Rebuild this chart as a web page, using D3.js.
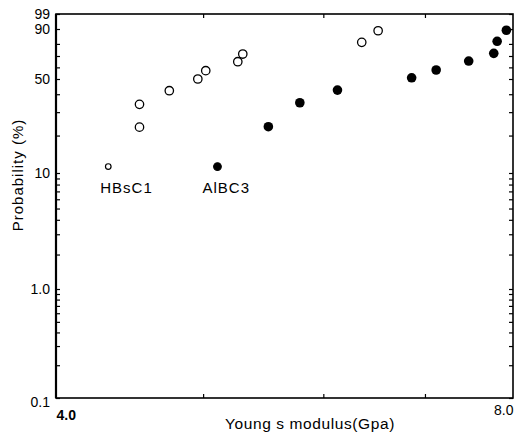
<!DOCTYPE html>
<html>
<head>
<meta charset="utf-8">
<script src="https://cdn.jsdelivr.net/npm/d3@7"></script>
<style>
  body { margin: 0; background: #fff; }
  svg { display: block; font-family: "Liberation Sans", Arial, sans-serif; }
</style>
</head>
<body>
<svg></svg>
<script>
// Young's modulus (GPa) and cumulative probability (%)
let hbsModulus = [4.54, 4.54, 4.75, 4.96, 5.02, 5.27, 5.31, 6.36, 6.52]
let hbsProb = [23.2, 34.1, 42.2, 50, 57.1, 65, 71.7, 81.2, 89]

let albModulus = [5.52, 5.79, 6.13, 6.86, 7.12, 7.48, 7.77, 7.81, 7.92]
let albProb = [23.4, 35, 42.6, 51, 57.7, 65.6, 72.3, 82, 89.3]

let seriesNames = ["HBsC1", "AlBC3"]
let legendModulus = [4.33, 5.11]
let legendProb = [11.3, 11.3]

let probTicks = [0.1, 1, 10, 50, 90, 99]
let probLabels = ["0.1", "1.0", "10", "50", "90", "99"]
let minorProb = [0.2, 0.3, 0.4, 0.5, 0.6, 0.7, 0.8, 0.9, 2, 3, 4, 5, 6, 7, 8, 9, 20, 30, 40, 60, 70, 80]
let modTicks = [4, 8]
let modLabels = ["4.0", "8.0"]
let minorMod = [5, 6, 7]

let width = 519
let height = 436
let plotLeft = 56, plotRight = 513, plotTop = 14, plotBottom = 398

let svg = d3.select('svg')
  .attr('width', width)
  .attr('height', height)

// weibull transform ln(-ln(1-F))
let weib = (p) => Math.log(-Math.log(1 - p / 100))

let xScale = d3.scaleLog()
  .domain([4, 8])
  .range([plotLeft, plotRight])

// the printed axis is squeezed near the top, so map piece by piece
let wScale = d3.scaleLinear()
  .domain(probTicks.map(weib))
  .range([plotBottom, 289, 173, 79, 29, plotTop])

let yScale = (p) => wScale(weib(p))

let font = 14

// frame
svg.append('rect')
  .attr('x', plotLeft)
  .attr('y', plotTop)
  .attr('width', plotRight - plotLeft)
  .attr('height', plotBottom - plotTop)
  .attr('fill', 'none')
  .attr('stroke', '#000')
  .attr('stroke-width', 1.6)

svg.append('line')
  .attr('x1', plotLeft).attr('x2', plotLeft)
  .attr('y1', plotTop).attr('y2', plotBottom)
  .attr('stroke', '#000')
  .attr('stroke-width', 2.2)

// y labels
let yLabels = svg.append('g')
  .attr('transform', 'translate(' + plotLeft + ',0)')
  .call(d3.axisLeft(wScale)
    .tickValues(probTicks.map(weib))
    .tickSize(0)
    .tickPadding(6)
    .tickFormat((d, i) => probLabels[i]))
yLabels.select('.domain').remove()
yLabels.selectAll('text')
  .attr('font-size', font)
  .attr('font-family', '"Liberation Sans", Arial, sans-serif')
  .attr('fill', '#000')
  .attr('dy', (d, i) => i == 0 ? '0.6em' : '0.32em')

// inward ticks on left and right
let yMinor = probTicks.concat(minorProb).map(weib)
let drawYTicks = (xPos, axisFn) => {
  let g = svg.append('g')
    .attr('transform', 'translate(' + xPos + ',0)')
    .call(axisFn(wScale).tickValues(yMinor).tickSize(4).tickFormat(''))
  g.select('.domain').remove()
  g.selectAll('line').attr('stroke', '#000').attr('stroke-width', 1.2)
}
drawYTicks(plotLeft, d3.axisRight)
drawYTicks(plotRight, d3.axisLeft)

// x labels
let xLabels = svg.append('g')
  .attr('transform', 'translate(0,' + plotBottom + ')')
  .call(d3.axisBottom(xScale)
    .tickValues(modTicks)
    .tickSize(0)
    .tickPadding(10)
    .tickFormat((d, i) => modLabels[i]))
xLabels.select('.domain').remove()
xLabels.selectAll('text')
  .attr('font-size', font)
  .attr('font-family', '"Liberation Sans", Arial, sans-serif')
  .attr('fill', '#000')
  .attr('text-anchor', (d, i) => i == 0 ? 'start' : 'end')
  .attr('font-weight', (d, i) => i == 0 ? 'bold' : 'normal')
  .attr('dy', (d, i) => i == 0 ? '0.85em' : '0.5em')

let drawXTicks = (yPos, axisFn) => {
  let g = svg.append('g')
    .attr('transform', 'translate(0,' + yPos + ')')
    .call(axisFn(xScale).tickValues(minorMod).tickSize(4).tickFormat(''))
  g.select('.domain').remove()
  g.selectAll('line').attr('stroke', '#000').attr('stroke-width', 1.2)
}
drawXTicks(plotTop, d3.axisBottom)
drawXTicks(plotBottom, d3.axisTop)

// axis titles
svg.append('text')
  .attr('x', 310)
  .attr('y', 429)
  .attr('text-anchor', 'middle')
  .attr('font-size', 15.5)
  .attr('letter-spacing', 0.6)
  .text('Young s modulus(Gpa)')

svg.append('text')
  .attr('transform', 'translate(23,175) rotate(-90)')
  .attr('text-anchor', 'middle')
  .attr('font-size', 15)
  .attr('letter-spacing', 1)
  .text('Probability (%)')

// points
let hbs = hbsModulus.map((m, i) => ({ m: m, p: hbsProb[i] }))
let alb = albModulus.map((m, i) => ({ m: m, p: albProb[i] }))

svg.append('g')
  .selectAll('circle')
  .data(hbs)
  .enter()
  .append('circle')
  .attr('cx', (d) => xScale(d.m))
  .attr('cy', (d) => yScale(d.p))
  .attr('r', 4.2)
  .attr('fill', '#fff')
  .attr('stroke', '#000')
  .attr('stroke-width', 1.3)

svg.append('g')
  .selectAll('circle')
  .data(alb)
  .enter()
  .append('circle')
  .attr('cx', (d) => xScale(d.m))
  .attr('cy', (d) => yScale(d.p))
  .attr('r', 4.8)
  .attr('fill', '#000')

// legend
seriesNames.forEach((name, i) => {
  let cx = xScale(legendModulus[i])
  let cy = yScale(legendProb[i])
  svg.append('circle')
    .attr('cx', cx)
    .attr('cy', cy)
    .attr('r', i == 0 ? 2.8 : 3.8)
    .attr('fill', i == 0 ? '#fff' : '#000')
    .attr('stroke', '#000')
    .attr('stroke-width', 1.2)
  svg.append('text')
    .attr('x', cx + (i == 0 ? -8 : -15))
    .attr('y', cy + 26)
    .attr('font-size', 15)
    .attr('letter-spacing', 1)
    .text(name)
})
</script>
</body>
</html>
